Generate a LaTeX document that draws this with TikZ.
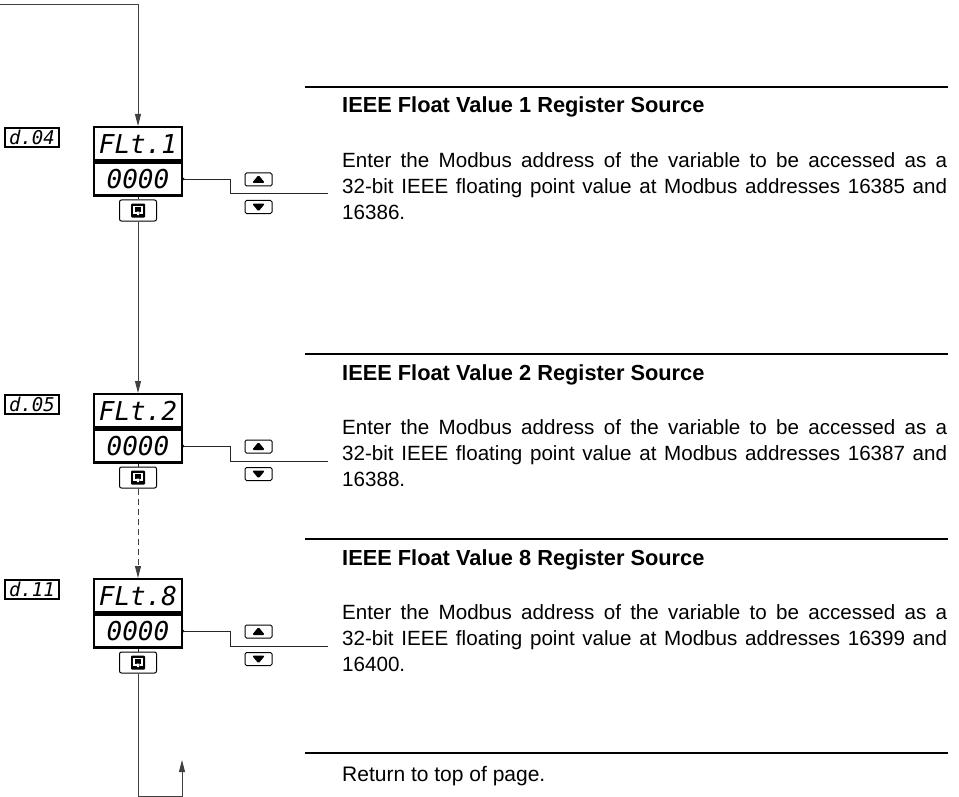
\documentclass[tikz,border=0pt]{standalone}
\usepackage{fontspec}
\setmainfont{Liberation Sans}
\newfontfamily\segfont{DejaVu Sans Mono}
\usepackage{tikz}
\usetikzlibrary{arrows.meta, positioning, calc}
\tikzstyle{segtop} = [rectangle, draw=black, line width=2.4pt, minimum width=88, minimum height=33, inner sep=0, font=\segfont\itshape\fontsize{26}{26}\selectfont]
\tikzstyle{addr} = [rectangle, draw=black, line width=1.2pt, minimum width=54, minimum height=19, inner sep=0, font=\segfont\itshape\fontsize{19}{19}\selectfont]
\tikzstyle{enterkey} = [rectangle, rounded corners=2pt, draw=black, line width=1pt, minimum width=37, minimum height=21, inner sep=0,
  path picture={
    \fill[rounded corners=1pt] (path picture bounding box.center) ++(-7pt,-7pt) rectangle ++(14pt,14pt);
    \draw[white, line width=1.3pt, sharp corners] (path picture bounding box.center) ++(1.5pt,-2.5pt) -- ++(2.5pt,0) -- ++(0,6.5pt) -- ++(-8pt,0) -- ++(0,-6.5pt) -- ++(2.5pt,0);
    \fill[white] (path picture bounding box.center) ++(-2.5pt,-1pt) -- ++(5pt,0) -- ++(-2.5pt,-5pt) -- cycle;
  }]
\tikzstyle{upkey} = [rectangle, rounded corners=1.5pt, draw=black, line width=1pt, minimum width=27, minimum height=13, inner sep=0,
  path picture={\fill (path picture bounding box.center) ++(-6.5pt,-3.5pt) -- ++(13pt,0) -- ++(-6.5pt,8pt) -- cycle;}]
\tikzstyle{downkey} = [rectangle, rounded corners=1.5pt, draw=black, line width=1pt, minimum width=27, minimum height=13, inner sep=0,
  path picture={\fill (path picture bounding box.center) ++(-6.5pt,3.5pt) -- ++(13pt,0) -- ++(-6.5pt,-8pt) -- cycle;}]
\tikzstyle{flow} = [line width=1pt, draw=black!75, -{Triangle[length=12pt,width=6pt]}]
\tikzstyle{link} = [line width=1pt, draw=black!85]
\tikzstyle{rule} = [line width=1.3pt]
\tikzstyle{headline} = [anchor=base west, inner sep=0, font=\bfseries\fontsize{21.8}{26}\selectfont]
\tikzstyle{bodytext} = [anchor=north west, inner sep=0, text width=605pt, align=justify,
  font={\fontsize{20.6}{26}\selectfont\spaceskip=0.278em plus 0.6em minus 0.1em\hfuzz=8pt}]

\begin{document}
\begin{tikzpicture}[x=1pt, y=-1pt]
    \useasboundingbox (0,0) rectangle (959,797);

    % displays, keys and value links
    \foreach \n/\y/\code/\lbl in {1/0/d.04/FLt.1, 2/267/d.05/FLt.2, 8/452/d.11/FLt.8} {
        \node (top\n) [segtop, anchor=north] at (138,{126+\y}) {\lbl};
        \node (val\n) [segtop, below=0pt of top\n] {0000};
        \node (addr\n) [addr] at (32,{137.5+\y}) {\code};
        \node (enter\n) [enterkey] at (138,{210.5+\y}) {};
        \node (up\n) [upkey] at (258.5,{179.5+\y}) {};
        \node (down\n) [downkey] at (258.5,{207+\y}) {};
        \coordinate (tip\n) at (328,{194+\y});
        \fill (val\n.east) circle (1.4);
        \draw [link] (val\n.east) -- ++(47,0) |- (tip\n);
        \draw [link] (val\n) -- (enter\n);
    }

    % flow between the steps
    \coordinate (start) at (0,5);
    \coordinate (turn) at (182,796);
    \coordinate (back) at (182,760);
    \draw [flow] (start) -| (top1.north);
    \draw [flow] (enter1) -- (top2);
    \draw [flow, dash pattern=on 6pt off 4pt] (enter2) -- (top8);
    \draw [flow] (enter8.south) |- (turn) -- (back);

    % descriptions
    \foreach \y in {87,354,539,753}
        \draw [rule] (305,\y) -- (948,\y);
    \node (head1) [headline] at (342,113) {IEEE Float Value 1 Register Source};
    \node (text1) [bodytext] at (342,152.3) {Enter the Modbus address of the variable to be accessed as a\linebreak 32-bit IEEE floating point value at Modbus addresses 16385 and\linebreak 16386.};
    \node (head2) [headline] at (342,380) {IEEE Float Value 2 Register Source};
    \node (text2) [bodytext] at (342,419.3) {Enter the Modbus address of the variable to be accessed as a\linebreak 32-bit IEEE floating point value at Modbus addresses 16387 and\linebreak 16388.};
    \node (head8) [headline] at (342,565) {IEEE Float Value 8 Register Source};
    \node (text8) [bodytext] at (342,604.3) {Enter the Modbus address of the variable to be accessed as a\linebreak 32-bit IEEE floating point value at Modbus addresses 16399 and\linebreak 16400.};
    \node (ret) [headline, font=\fontsize{21}{26}\selectfont] at (342,781) {Return to top of page.};
\end{tikzpicture}
\end{document}
